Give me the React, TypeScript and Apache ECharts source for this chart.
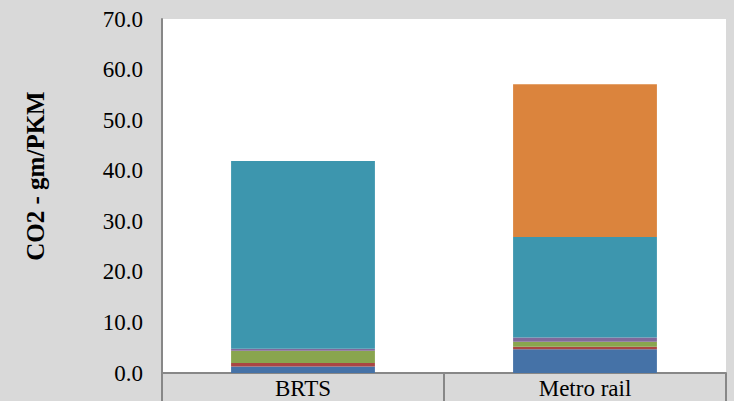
import React, { useEffect, useRef } from "react";
import * as echarts from "echarts";

// Transit modes on the category axis
const modes = ["BRTS", "Metro rail"];

// CO2 contributions (gm/PKM), stacked from bottom to top
const layer1 = [1.3, 4.7];
const layer2 = [0.7, 0.5];
const layer3 = [2.4, 1.0];
const layer4 = [0.4, 0.8];
const layer5 = [37.1, 19.9];
const layer6 = [0, 30.2];

const layerNames = ["Layer 1", "Layer 2", "Layer 3", "Layer 4", "Layer 5", "Layer 6"];
const layerValues = [layer1, layer2, layer3, layer4, layer5, layer6];
const layerColors = ["#4572A7", "#AA4643", "#89A54E", "#80699B", "#3D96AE", "#DB843D"];

const yTicks = { min: 0, max: 70, interval: 10 };
const yTitle = "CO2 - gm/PKM";

const FONT = "'Liberation Serif', 'Times New Roman', serif";
const AXIS_GRAY = "#878787";

export default function App() {
  const ref = useRef<HTMLDivElement>(null);

  useEffect(() => {
    if (!ref.current) return;
    const chart = echarts.init(ref.current, null, { renderer: "svg" });
    chart.setOption({
      animation: false,
      backgroundColor: "#d9d9d9",
      grid: {
        left: 162,
        right: 8,
        top: 19,
        bottom: 28,
        show: true,
        backgroundColor: "#ffffff",
        borderWidth: 0,
      },
      xAxis: {
        type: "category",
        data: modes,
        axisLine: { show: true, lineStyle: { color: AXIS_GRAY, width: 2 } },
        axisTick: { show: true, length: 30, lineStyle: { color: AXIS_GRAY, width: 2 } },
        axisLabel: { color: "#000", fontFamily: FONT, fontSize: 23, margin: 4 },
      },
      yAxis: {
        type: "value",
        min: yTicks.min,
        max: yTicks.max,
        interval: yTicks.interval,
        axisLine: { show: true, lineStyle: { color: AXIS_GRAY, width: 2 } },
        axisTick: { show: false },
        splitLine: { show: false },
        axisLabel: {
          color: "#000",
          fontFamily: FONT,
          fontSize: 23,
          margin: 19,
          formatter: (v: number) => v.toFixed(1),
        },
      },
      graphic: [
        {
          type: "text",
          x: 35,
          y: 176,
          rotation: Math.PI / 2,
          style: {
            text: yTitle,
            fill: "#000",
            font: `bold 25px ${FONT}`,
            textAlign: "center",
            textVerticalAlign: "middle",
          },
        },
      ],
      series: layerNames.map((name, i) => ({
        name,
        type: "bar",
        stack: "co2",
        barWidth: "51%",
        data: layerValues[i],
        itemStyle: { color: layerColors[i] },
      })),
    });
    return () => chart.dispose();
  }, []);

  return (
    <div
      ref={ref}
      style={{ position: "absolute", left: 0, top: 0, width: 734, height: 401 }}
    />
  );
}
